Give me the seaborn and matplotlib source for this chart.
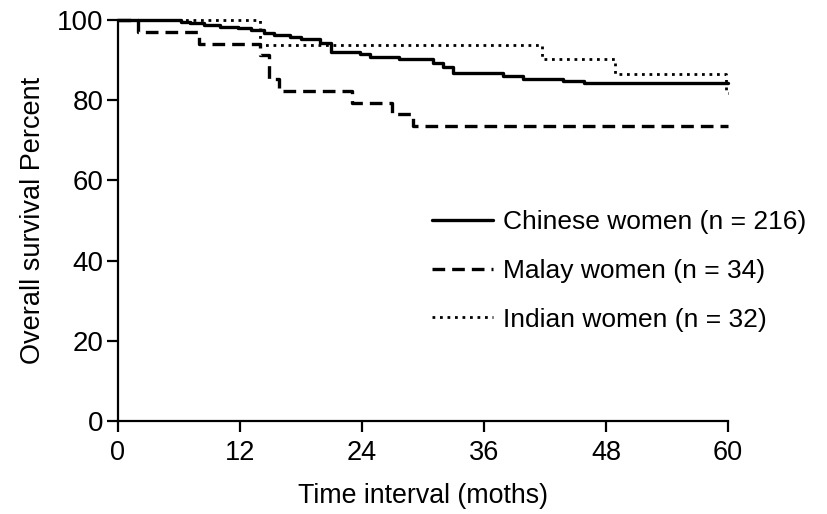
import numpy as np
import pandas as pd
import matplotlib
matplotlib.use("Agg")
import matplotlib.pyplot as plt
import seaborn as sns

# ---- data (Kaplan-Meier steps, value after each time) ----
chinese_months = [0, 6.2, 7.1, 8.5, 10.1, 11.8, 13.1, 14.4, 15.4, 17.0, 18.0, 19.9,
                  21.0, 23.8, 24.8, 27.7, 31.0, 32.0, 33.0, 37.9, 39.9, 43.8, 45.8, 60]
chinese_pct = [100, 99.6, 99.2, 98.8, 98.3, 97.9, 97.5, 96.8, 96.3, 95.8, 95.2, 94.2,
               92.1, 91.5, 90.8, 90.2, 89.2, 88.2, 86.9, 86.0, 85.2, 84.8, 84.4, 84.4]

malay_months = [0, 2, 8, 14, 14.9, 15.9, 23, 27, 29, 60]
malay_pct = [100, 97.1, 94.1, 91.2, 85.3, 82.4, 79.4, 76.5, 73.5, 73.5]

indian_months = [0, 14, 41.7, 48.9, 59.8, 60]
indian_pct = [100, 93.8, 90.2, 86.5, 81.7, 81.7]

groups = ["Chinese women (n = 216)", "Malay women (n = 34)", "Indian women (n = 32)"]
x_ticks = [0, 12, 24, 36, 48, 60]
y_ticks = [0, 20, 40, 60, 80, 100]

df = pd.concat([
    pd.DataFrame({"month": chinese_months, "pct": chinese_pct, "group": groups[0]}),
    pd.DataFrame({"month": malay_months, "pct": malay_pct, "group": groups[1]}),
    pd.DataFrame({"month": indian_months, "pct": indian_pct, "group": groups[2]}),
])

# ---- plot ----
sns.set_style("ticks")
plt.rcParams["font.family"] = ["Liberation Sans", "DejaVu Sans"]
for key in ["text.color", "axes.labelcolor", "xtick.color", "ytick.color", "axes.edgecolor"]:
    plt.rcParams[key] = "black"

fig = plt.figure(figsize=(8.27, 5.14), dpi=100)
ax = fig.add_axes([117.5 / 827, 93 / 514, 610.5 / 827, 401 / 514])

styles = {groups[0]: dict(lw=2.4, ls="-"),
          groups[1]: dict(lw=2.4, ls=(0, (3.8, 2.1))),
          groups[2]: dict(lw=2.0, ls=(0, (1, 1.7)))}

for g in groups:
    sub = df[df["group"] == g]
    sns.lineplot(data=sub, x="month", y="pct", ax=ax, color="black",
                 drawstyle="steps-post", estimator=None, sort=False,
                 label=g, linewidth=styles[g]["lw"], linestyle=styles[g]["ls"],
                 clip_on=False)

ax.set_xlim(0, 60)
ax.set_ylim(0, 100)
ax.set_xticks(x_ticks)
ax.set_yticks(y_ticks)
ax.tick_params(axis="both", direction="out", length=8, width=1.6, color="black")
ax.tick_params(axis="x", labelsize=19.5, pad=6)
ax.tick_params(axis="y", labelsize=20, pad=2)
for s in ["left", "bottom"]:
    ax.spines[s].set_linewidth(1.6)
sns.despine(ax=ax)

ax.set_xlabel("Time interval (moths)", fontsize=19.3, labelpad=12)
ax.set_ylabel("Overall survival Percent", fontsize=19.5, labelpad=8)

handles, labels = ax.get_legend_handles_labels()
ax.legend(handles, labels, loc="center left", frameon=False, fontsize=19,
          bbox_to_anchor=(432 / 827, 1 - 271 / 514), bbox_transform=fig.transFigure,
          borderaxespad=0, borderpad=0, handlelength=2.3, handletextpad=0.4,
          labelspacing=0.93)

fig.savefig("out.png", dpi=100)
